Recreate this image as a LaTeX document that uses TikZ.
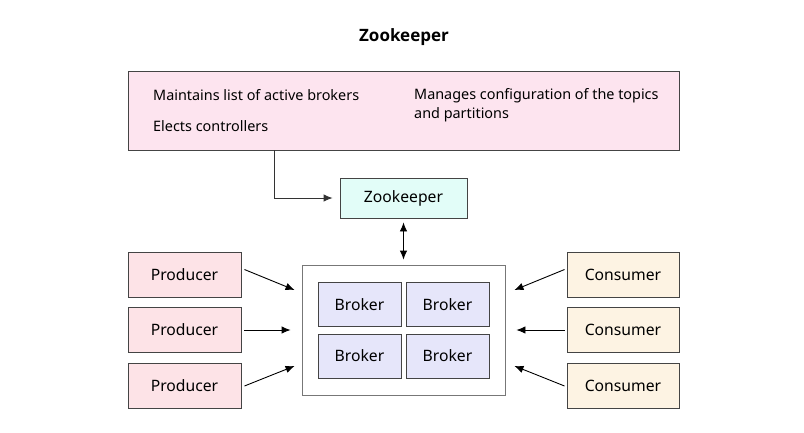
\documentclass[tikz,border=0pt]{standalone}
\usepackage{fontspec}
\setmainfont{Noto Sans}
\newfontfamily\titlefont{Open Sans}
\usetikzlibrary{arrows.meta,calc}
\definecolor{bigpink}{HTML}{FDE4EF}
\definecolor{prodpink}{HTML}{FDE3E7}
\definecolor{zkcyan}{HTML}{E2FDF8}
\definecolor{brokerlav}{HTML}{E6E6FA}
\definecolor{consbeige}{HTML}{FDF3E3}
\definecolor{edgegray}{HTML}{444444}
\definecolor{clgray}{HTML}{777777}
\tikzset{
  box/.style={draw=edgegray, line width=0.9pt, minimum width=113pt, minimum height=45pt, inner sep=0pt, font=\fontsize{15.7}{18}\selectfont},
  prodbox/.style={box, fill=prodpink},
  consbox/.style={box, fill=consbeige, minimum width=112pt},
  brokerbox/.style={box, fill=brokerlav, minimum width=83pt, minimum height=44pt},
  arr/.style={-{Latex[length=9pt,width=7.5pt]}, line width=0.9pt, black},
  note/.style={anchor=west, inner sep=0pt, font=\fontsize{14.4}{19}\selectfont, align=left},
}
\begin{document}
\begin{tikzpicture}[x=1pt,y=-1pt]
\useasboundingbox[fill=white] (0,0) rectangle (804,432);
\node[font=\titlefont\bfseries\fontsize{17}{20}\selectfont] (title) at (404,37) {Zookeeper};
\node[draw=edgegray, line width=0.9pt, fill=bigpink, minimum width=551pt, minimum height=79pt, inner sep=0pt] (big) at (403.5,110.5) {};
\node[note] (n1) at (153,95) {Maintains list of active brokers};
\node[note] (n2) at (153,126) {Elects controllers};
\node[note, anchor=north west] (n3) at (414,88) {Manages configuration of the topics\\and partitions};
\node[box, fill=zkcyan, minimum width=127pt, minimum height=40pt] (zk) at (403.5,198) {Zookeeper};
\node[draw=clgray, line width=0.9pt, fill=white, minimum width=203pt, minimum height=130pt, inner sep=0pt] (cl) at (403.5,330) {};
\node[brokerbox] (b1) at (359.5,304.5) {Broker};
\node[brokerbox] (b2) at (447.5,304.5) {Broker};
\node[brokerbox] (b3) at (359.5,356) {Broker};
\node[brokerbox] (b4) at (447.5,356) {Broker};
\node[prodbox] (p1) at (184.5,274.5) {Producer};
\node[prodbox] (p2) at (184.5,330) {Producer};
\node[prodbox] (p3) at (184.5,386) {Producer};
\node[consbox] (c1) at (623,274.5) {Consumer};
\node[consbox] (c2) at (623,330) {Consumer};
\node[consbox] (c3) at (623,386) {Consumer};
% connectors
\coordinate (bigout) at ([xshift=-129.5pt]big.south);
\draw[arr, draw=black!80] (bigout) |- ([xshift=-7pt]zk.west);
\draw[{Latex[length=9pt,width=7.5pt]}-{Latex[length=9pt,width=7.5pt]}, line width=0.9pt] ([yshift=-4pt]zk.south) -- ([yshift=5pt]cl.north);
\draw[arr] ([xshift=3pt,yshift=5pt]p1.east) -- ([xshift=-7pt,yshift=40pt]cl.west);
\draw[arr] ([xshift=3pt]p2.east) -- ([xshift=-11pt]cl.west);
\draw[arr] ([xshift=3pt,yshift=0pt]p3.east) -- ([xshift=-7pt,yshift=-36pt]cl.west);
\draw[arr] ([xshift=-2pt,yshift=5pt]c1.west) -- ([xshift=9pt,yshift=40pt]cl.east);
\draw[arr] ([xshift=-2pt]c2.west) -- ([xshift=11pt]cl.east);
\draw[arr] ([xshift=-2pt,yshift=0pt]c3.west) -- ([xshift=9pt,yshift=-36pt]cl.east);
\end{tikzpicture}
\end{document}
